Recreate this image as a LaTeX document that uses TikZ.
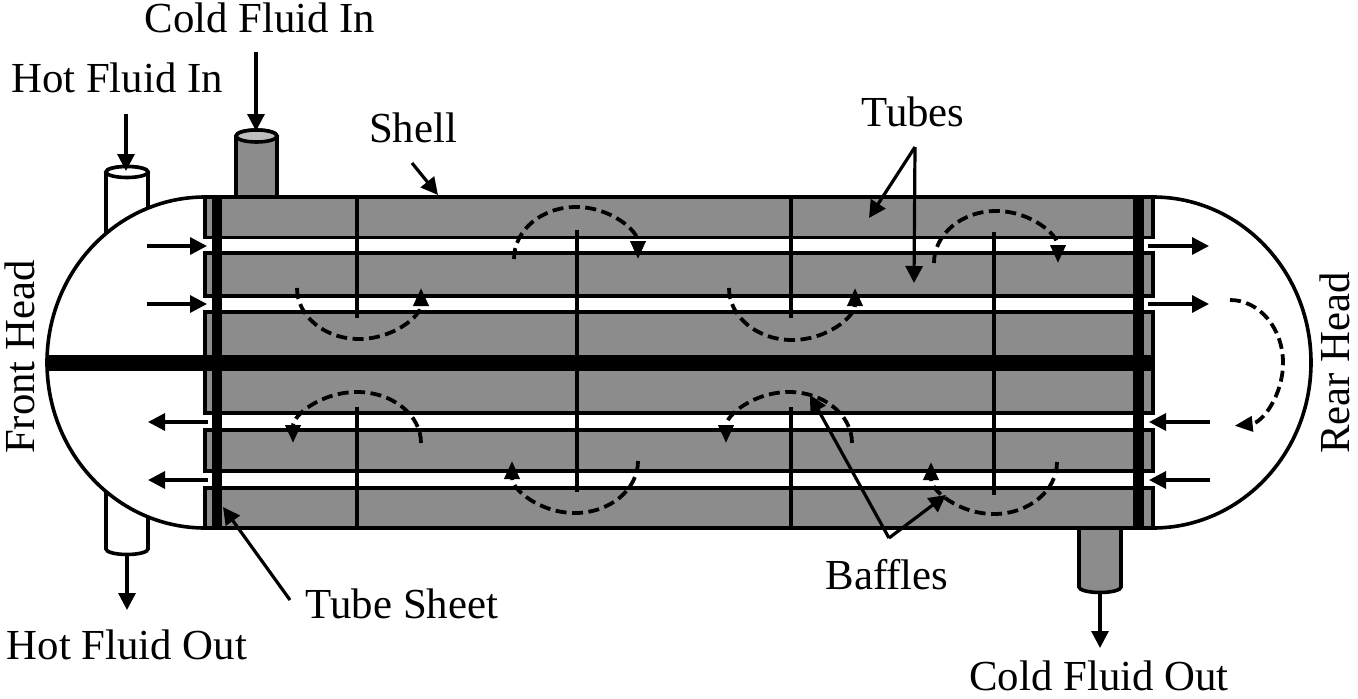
\documentclass[tikz,border=0pt]{standalone}
\usepackage{fontspec}
\setmainfont{Liberation Serif}
\usetikzlibrary{arrows.meta}
\definecolor{shellgray}{HTML}{8C8C8C}
\tikzset{
  lbl/.style={inner sep=0pt,font=\fontsize{42.8}{48}\selectfont},
  wall/.style={draw=black,line width=3.6pt},
  tubeline/.style={draw=black,line width=3.6pt},
  baffle/.style={draw=black,line width=3.3pt},
  arrow/.style={draw=black,line width=3.2pt,-{Triangle[length=17pt,width=17pt]}},
  flow/.style={draw=black,line width=3.8pt,dash pattern=on 11pt off 5.5pt,-{Triangle[length=18pt,width=15pt]}}
}
\begin{document}
\begin{tikzpicture}[x=1pt,y=-1pt]
\useasboundingbox (0,0) rectangle (1358,699);
% nozzles
\draw[wall,fill=white] (106,240) -- (106,172) arc[start angle=180,end angle=360,x radius=21,y radius=5.5] -- (148,240);
\draw[wall,fill=white] (127,172) ellipse[x radius=21,y radius=5.5];
\draw[wall,fill=shellgray] (236,200) -- (236,136) arc[start angle=180,end angle=360,x radius=20.5,y radius=6] -- (277,200);
\draw[wall,fill=lightgray] (256.5,136) ellipse[x radius=20.5,y radius=6];
\draw[wall,fill=white] (106,480) -- (106,549) arc[start angle=180,end angle=0,x radius=21,y radius=5.5] -- (148,480);
\draw[wall,fill=shellgray] (1079,525) -- (1079,587) arc[start angle=180,end angle=0,x radius=21,y radius=5.5] -- (1121,525);
% heads
\draw[wall,fill=white] (205,197) arc[start angle=270,end angle=90,x radius=158,y radius=165.5];
\draw[wall,fill=white] (1153,197) arc[start angle=-90,end angle=90,x radius=158,y radius=165.5];
% shell
\draw[wall,fill=shellgray] (205,197) rectangle (1153,528);
% tubes
\fill[white] (202,239) rectangle (1156,251);
\fill[white] (202,298) rectangle (1156,310);
\fill[white] (202,415) rectangle (1156,428);
\fill[white] (202,473) rectangle (1156,486);
\draw[tubeline] (204,237.5) -- (1153,237.5) (204,253) -- (1153,253);
\draw[tubeline] (204,296) -- (1153,296) (204,312) -- (1153,312);
\draw[tubeline] (204,413) -- (1153,413) (204,430) -- (1153,430);
\draw[tubeline] (204,471) -- (1153,471) (204,488) -- (1153,488);
% tube sheets and pass partition
\fill[black] (212,197) rectangle (222,528);
\fill[black] (1133,197) rectangle (1144,528);
\fill[black] (47,355) rectangle (1153,371);
% baffles
\draw[baffle] (357,197) -- (357,318);
\draw[baffle] (577,230) -- (577,355);
\draw[baffle] (791,197) -- (791,318);
\draw[baffle] (994,232) -- (994,355);
\draw[baffle] (357,407) -- (357,528);
\draw[baffle] (577,371) -- (577,492);
\draw[baffle] (791,407) -- (791,528);
\draw[baffle] (994,371) -- (994,495);
% labels
\node[lbl] (coldin) at (260,18) {Cold Fluid In};
\node[lbl] (hotin) at (117,78) {Hot Fluid In};
\node[lbl] (shell) at (413,128) {Shell};
\node[lbl] (tubes) at (913,112) {Tubes};
\node[lbl] (baffles) at (887,575) {Baffles};
\node[lbl] (sheet) at (402,604) {Tube Sheet};
\node[lbl] (hotout) at (127,645) {Hot Fluid Out};
\node[lbl] (coldout) at (1099,676) {Cold Fluid Out};
\node[lbl,rotate=90] (front) at (20,357) {Front Head};
\node[lbl,rotate=90] (rear) at (1335,363) {Rear Head};
% label arrows
\coordinate (coldinA) at (256,52);
\coordinate (coldinB) at (256,131);
\coordinate (hotinA) at (126,114);
\coordinate (hotinB) at (126,171);
\coordinate (hotoutA) at (127,555);
\coordinate (hotoutB) at (127,610);
\coordinate (coldoutA) at (1100,592);
\coordinate (coldoutB) at (1100,648);
\coordinate (shellA) at (412,163);
\coordinate (shellB) at (438,195);
\coordinate (tubesA) at (915,147);
\coordinate (tubesB) at (869,218);
\coordinate (tubesC) at (914,283);
\coordinate (bafflesA) at (889,538);
\coordinate (bafflesB) at (810,395);
\coordinate (bafflesC) at (946,495);
\coordinate (sheetA) at (290,600);
\coordinate (sheetB) at (223,507);
\draw[arrow] (coldinA) -- (coldinB);
\draw[arrow] (hotinA) -- (hotinB);
\draw[arrow] (hotoutA) -- (hotoutB);
\draw[arrow] (coldoutA) -- (coldoutB);
\draw[arrow] (shellA) -- (shellB);
\draw[arrow] (tubesA) -- (tubesB);
\draw[arrow] (tubesA) -- (tubesC);
\draw[arrow] (bafflesA) -- (bafflesB);
\draw[arrow] (bafflesA) -- (bafflesC);
\draw[arrow] (sheetA) -- (sheetB);
% head arrows
\coordinate (inA) at (147,246);
\coordinate (inB) at (207,246);
\coordinate (inC) at (147,304);
\coordinate (inD) at (207,304);
\coordinate (outA) at (208,422);
\coordinate (outB) at (148,422);
\coordinate (outC) at (208,480);
\coordinate (outD) at (148,480);
\coordinate (rearA) at (1148,246);
\coordinate (rearB) at (1209,246);
\coordinate (rearC) at (1148,304);
\coordinate (rearD) at (1209,304);
\coordinate (rearE) at (1210,422);
\coordinate (rearF) at (1149,422);
\coordinate (rearG) at (1210,480);
\coordinate (rearH) at (1149,480);
\draw[arrow] (inA) -- (inB);
\draw[arrow] (inC) -- (inD);
\draw[arrow] (outA) -- (outB);
\draw[arrow] (outC) -- (outD);
\draw[arrow] (rearA) -- (rearB);
\draw[arrow] (rearC) -- (rearD);
\draw[arrow] (rearE) -- (rearF);
\draw[arrow] (rearG) -- (rearH);
% flow paths
\coordinate (flowA) at (297,288);
\coordinate (flowB) at (514,259);
\coordinate (flowC) at (729,288);
\coordinate (flowD) at (934,263);
\coordinate (flowE) at (421,443);
\coordinate (flowF) at (638,461);
\coordinate (flowG) at (852,443);
\coordinate (flowH) at (1057,462);
\coordinate (flowR) at (1230,300);
\draw[flow] (flowA) arc[start angle=180,end angle=0,x radius=62,y radius=51];
\draw[flow] (flowB) arc[start angle=180,end angle=360,x radius=62,y radius=52];
\draw[flow] (flowC) arc[start angle=180,end angle=0,x radius=63,y radius=52];
\draw[flow] (flowD) arc[start angle=180,end angle=360,x radius=62,y radius=52];
\draw[flow] (flowE) arc[start angle=0,end angle=-180,x radius=64,y radius=51];
\draw[flow] (flowF) arc[start angle=0,end angle=180,x radius=63,y radius=52];
\draw[flow] (flowG) arc[start angle=0,end angle=-180,x radius=63,y radius=51];
\draw[flow] (flowH) arc[start angle=0,end angle=180,x radius=63,y radius=52];
\draw[flow] (flowR) arc[start angle=270,end angle=445,x radius=53,y radius=63];
\end{tikzpicture}
\end{document}
